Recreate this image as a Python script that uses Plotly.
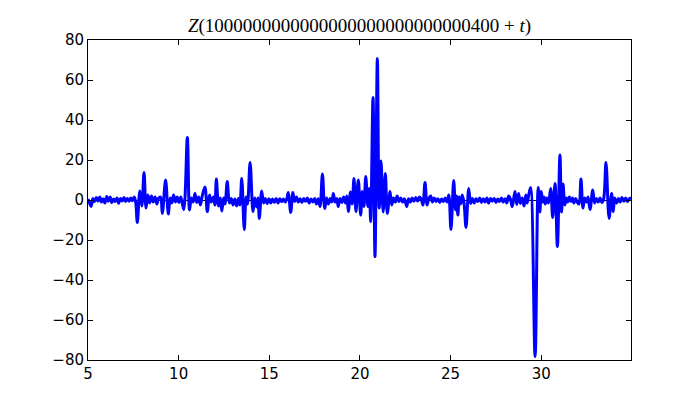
import plotly.graph_objects as go

# Extrema of Z(t) (t, value)
t_vals = [
    5.00, 5.08, 5.17, 5.27, 5.36, 5.46, 5.55, 5.65, 5.74, 5.84, 5.93, 6.03, 6.12, 6.22, 6.31,
    6.41, 6.50, 6.60, 6.69, 6.79, 6.88, 6.98, 7.07, 7.17, 7.26, 7.36, 7.45, 7.55, 7.63,
    7.72, 7.86, 7.97, 8.09, 8.20, 8.30, 8.40, 8.50, 8.60, 8.70, 8.80, 8.90, 9.00, 9.10,
    9.28, 9.43, 9.53, 9.62, 9.72, 9.82, 9.92, 10.02, 10.12, 10.28, 10.48, 10.60, 10.70,
    10.80, 10.90, 11.00, 11.10, 11.20, 11.30, 11.45, 11.58, 11.70, 11.80, 11.92, 12.00,
    12.08, 12.20, 12.30, 12.38, 12.48, 12.56, 12.68, 12.80, 12.90, 13.00, 13.10, 13.20,
    13.30, 13.38, 13.48, 13.62, 13.72, 13.80, 13.94, 14.10, 14.20, 14.30, 14.38, 14.45,
    14.58, 14.68, 14.78, 14.88, 14.98, 15.08, 15.18, 15.28, 15.38, 15.48, 15.58, 15.68,
    15.78, 15.88, 15.96, 16.05, 16.18, 16.30, 16.40, 16.50, 16.60, 16.70, 16.80, 16.90,
    17.00, 17.10, 17.20, 17.30, 17.40, 17.50, 17.60, 17.70, 17.80, 17.93, 18.06, 18.16,
    18.26, 18.36, 18.45, 18.53, 18.63, 18.72, 18.80, 18.90, 19.00, 19.10, 19.20, 19.28,
    19.36, 19.48, 19.57, 19.67, 19.78, 19.91, 20.04, 20.13, 20.22, 20.32, 20.44, 20.52,
    20.59, 20.72, 20.83, 20.96, 21.06, 21.16, 21.28, 21.40, 21.51, 21.66, 21.75, 21.85,
    21.95, 22.05, 22.15, 22.25, 22.35, 22.45, 22.58, 22.68, 22.78, 22.88, 22.98, 23.08,
    23.18, 23.28, 23.38, 23.47, 23.59, 23.70, 23.80, 23.90, 24.00, 24.10, 24.20, 24.30,
    24.40, 24.50, 24.60, 24.70, 24.80, 24.90, 25.02, 25.17, 25.27, 25.33, 25.40, 25.48,
    25.56, 25.64, 25.74, 25.85, 26.00, 26.10, 26.20, 26.30, 26.40, 26.50, 26.60, 26.70,
    26.80, 26.90, 27.00, 27.10, 27.20, 27.30, 27.40, 27.50, 27.60, 27.70, 27.80, 27.90,
    28.00, 28.10, 28.20, 28.30, 28.40, 28.55, 28.65, 28.75, 28.85, 28.95, 29.05, 29.15,
    29.22, 29.30, 29.41, 29.66, 29.83, 29.92, 30.00, 30.08, 30.15, 30.22, 30.30, 30.40,
    30.52, 30.63, 30.76, 30.89, 31.03, 31.12, 31.20, 31.30, 31.38, 31.46, 31.55, 31.64,
    31.72, 31.80, 31.90, 31.98, 32.08, 32.19, 32.30, 32.40, 32.50, 32.58, 32.69, 32.84,
    32.94, 33.04, 33.14, 33.24, 33.34, 33.44, 33.57, 33.74, 33.88, 33.97, 34.05, 34.15,
    34.25, 34.35, 34.45, 34.55, 34.65, 34.75, 34.85, 34.95,
]
z_vals = [
    0.5, -1.5, -3.2, 0.8, -0.8, 1.2, -0.5, 1.5, -1.0, 0.6, -1.5, 1.8, -0.6, 1.5, -1.2,
    0.5, -0.8, 1.0, -1.6, 0.8, -0.5, 1.2, -0.7, 0.8, -0.6, 1.0, -0.4, 1.5, -1.0,
    -11.3, 4.5, -3.0, 13.7, -4.0, 2.5, -1.5, 2.0, -1.0, 1.5, -2.0, 1.0, 1.5, -6.7,
    10.0, -7.0, 1.0, -1.5, 2.5, -1.0, 1.5, -1.2, 1.5, -4.7, 31.3, -5.0, 1.0,
    -1.0, 3.3, -1.2, 1.5, -2.5, 2.0, 6.5, -5.8, 2.5, -1.0, 1.5, -2.5,
    10.5, -3.0, 1.0, -5.5, 1.0, -2.0, 9.2, -1.5, 0.8, -2.5, 0.5, -3.0,
    0.8, -2.5, 10.8, -14.7, 1.5, -2.0, 18.8, -5.8, 1.0, -3.5, 1.0, -9.2,
    4.5, -1.5, 0.8, -1.8, 0.6, -1.5, 0.5, -1.2, 0.8, -1.5, 0.6, -0.8,
    0.5, -1.0, 0.5, 3.7, -6.2, 3.7, -0.8, 1.5, -1.0, 0.6, -1.2, 0.8,
    -0.6, 1.0, -1.5, 0.5, -1.0, 0.8, -2.0, 0.6, -3.3, 13.0, -4.3, 1.0,
    -2.0, 0.8, -1.0, 3.3, -1.0, 0.8, -3.3, 0.8, -1.2, 1.5, -1.5, 2.0,
    -5.8, 4.0, -2.0, 10.8, -5.8, 10.0, -7.5, 4.2, -3.3, 11.7, -3.3, 5.8,
    -10.8, 51.3, -28.3, 70.8, -4.0, 19.5, -6.0, 13.3, -6.7, 4.2, -2.5, 1.0,
    -1.0, 2.0, -0.8, 1.0, -1.0, 0.6, -3.3, 0.6, -1.0, 1.0, -0.6, 1.2,
    -0.5, 1.5, 0.5, -2.5, 8.7, -2.5, 0.8, 2.0, -1.0, 1.0, -0.8, 0.6,
    -1.2, 0.5, -0.8, 1.0, -1.0, 2.5, -14.7, 9.7, -5.0, 2.0, -7.5, 1.5,
    -2.0, 2.5, -1.5, -13.7, 5.8, -1.7, 0.8, -1.5, 0.6, -0.8, 1.0, -1.2,
    0.6, -1.0, 1.0, -1.5, 0.8, -0.6, 0.8, -1.2, 0.5, -0.8, 1.0, -1.0,
    0.6, -1.5, 2.0, 0.5, -3.3, 4.2, -2.3, 3.3, -1.7, 1.0, -3.0, 2.5,
    -1.5, 2.0, 6.3, -78.3, 6.3, -6.0, 4.2, -1.0, 1.5, -2.0, 1.0, -1.5,
    5.8, -8.7, 8.3, -23.3, 22.5, -6.0, 8.0, -2.5, 1.0, -1.0, 1.5, -0.8,
    1.0, -1.5, 0.8, -1.0, -2.0, 10.5, -4.0, 1.0, -1.0, 1.5, -4.7, 5.0,
    -1.5, 0.8, -1.0, 1.0, -1.2, 0.5, 18.7, -9.2, 3.3, -5.8, 1.0, -1.5,
    0.8, -1.0, 1.2, -0.6, 1.0, -0.8, 0.6, 1.0,
]

x_ticks = [5, 10, 15, 20, 25, 30]
y_ticks = [-80, -60, -40, -20, 0, 20, 40, 60, 80]
title_text = "<i>Z</i>(1" + "0" * 27 + "400 + <i>t</i>)"

fig = go.Figure()
fig.add_trace(go.Scatter(
    x=t_vals, y=z_vals, mode="lines",
    line=dict(color="#0000ff", width=3, shape="spline", smoothing=1.0),
    hoverinfo="skip",
))

axis_common = dict(
    showline=True, linecolor="black", linewidth=1, mirror="ticks",
    ticks="inside", ticklen=5, tickcolor="black", tickwidth=1,
    showgrid=False,
    tickfont=dict(family="DejaVu Sans", size=15, color="black"),
)

# the page body adds an 8 px offset, so margins are reduced accordingly
fig.update_layout(
    width=700, height=400,
    margin=dict(l=80, r=77, t=32, b=48),
    paper_bgcolor="white", plot_bgcolor="white",
    showlegend=False,
    title=dict(text=title_text, x=0.5, xref="paper", y=1 - 17 / 400, yref="container",
               xanchor="center", yanchor="middle",
               font=dict(family="Liberation Serif", size=19, color="black")),
    xaxis=dict(range=[5, 34.95], tickvals=x_ticks, zeroline=False, **axis_common),
    yaxis=dict(range=[-80, 80], tickvals=y_ticks, zeroline=True, zerolinecolor="black",
               zerolinewidth=1, **axis_common),
)

fig.write_html("out.html")
